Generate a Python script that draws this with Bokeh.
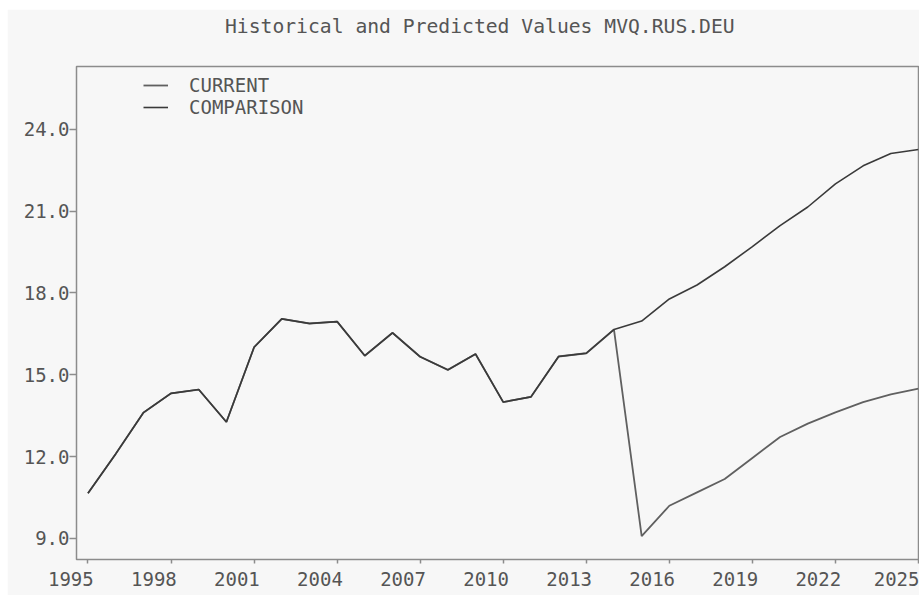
from bokeh.plotting import figure
from bokeh.models import (Range1d, FixedTicker, NumeralTickFormatter, Legend, LegendItem,
                          LinearAxis)
from bokeh.embed import file_html
from bokeh.resources import INLINE

# ---- data ----
years = list(range(1995, 2026))
history = [10.66, 12.10, 13.61, 14.32, 14.46, 13.27, 16.01, 17.05, 16.88, 16.95,
           15.70, 16.54, 15.66, 15.18, 15.76, 14.00, 14.19, 15.67, 15.79, 16.66]
current_forecast = [9.09, 10.20, 10.69, 11.18, 11.95, 12.72, 13.21, 13.62, 14.00, 14.28, 14.49]
comparison_forecast = [16.97, 17.78, 18.29, 18.96, 19.70, 20.47, 21.15, 22.00, 22.66, 23.11, 23.26]
current = history + current_forecast
comparison = history + comparison_forecast
x_ticks = [1995, 1998, 2001, 2004, 2007, 2010, 2013, 2016, 2019, 2022, 2025]
x_tick_labels = [str(t) for t in x_ticks]
y_ticks = [9, 12, 15, 18, 21, 24]
title_text = "Historical and Predicted Values MVQ.RUS.DEU"

FONT = "DejaVu Sans Mono"
TXT = "#555555"
BG = "#f7f7f7"
FRAME = "#8c8c8c"
NBSP = "\u00a0"

p = figure(width=912, height=586, output_backend="svg", toolbar_location=None,
           x_range=Range1d(1994.585, 2025.0), y_range=Range1d(8.23, 26.30),
           min_border_left=69, min_border_right=1, min_border_top=57, min_border_bottom=36)
p.margin = (9, 0, 0, 7)

p.background_fill_color = BG
p.border_fill_color = BG
p.outline_line_color = FRAME
p.outline_line_width = 1.5
p.grid.visible = False

# y axis
ya = p.left[0]
ya.ticker = FixedTicker(ticks=y_ticks)
ya.formatter = NumeralTickFormatter(format="0.0")
ya.axis_line_color = None
ya.major_tick_line_color = FRAME
ya.major_tick_line_width = 1.5
ya.major_tick_out = 7
ya.major_tick_in = 0
ya.minor_tick_line_color = None
ya.major_label_standoff = 0
ya.major_label_text_font = FONT
ya.major_label_text_font_size = "19px"
ya.major_label_text_color = TXT

# x axis: labels sit left of their ticks in the reference (padding with no-break spaces)
xa = p.below[0]
xa.ticker = FixedTicker(ticks=x_ticks)
overrides = {t: lab + NBSP * 3 for t, lab in zip(x_ticks, x_tick_labels)}
overrides[x_ticks[-1]] = x_tick_labels[-1]
xa.major_label_overrides = overrides
xa.axis_line_color = None
xa.major_tick_line_color = FRAME
xa.major_tick_line_width = 1.5
xa.major_tick_out = 4
xa.major_tick_in = 0
xa.minor_tick_line_color = None
xa.major_label_standoff = 4
xa.major_label_text_font = FONT
xa.major_label_text_font_size = "19px"
xa.major_label_text_color = TXT

# spacer between title and frame: one (practically invisible) tick, no label
spacer = LinearAxis(ticker=FixedTicker(ticks=[2010]), axis_line_color=None,
                    major_tick_out=22, major_tick_in=0, major_tick_line_color=BG,
                    major_tick_line_alpha=0.01,
                    minor_tick_out=0, minor_tick_line_color=None, major_label_standoff=0,
                    major_label_overrides={2010: ""})
p.add_layout(spacer, "above")

# title
p.title.text = title_text
p.title.text_font = FONT
p.title.text_font_size = "19.7px"
p.title.text_font_style = "normal"
p.title.text_color = TXT
p.title.align = "left"
p.title.vertical_align = "top"
p.title.offset = 148.5
p.title.standoff = 10

# lines
r_cur = p.line(years, current, line_color="#606060", line_width=1.8)
r_cmp = p.line(years, comparison, line_color="#3a3a3a", line_width=1.6)

legend = Legend(items=[LegendItem(label="CURRENT", renderers=[r_cur]),
                       LegendItem(label="COMPARISON", renderers=[r_cmp])],
                location=(67, 441), orientation="vertical")
legend.background_fill_alpha = 0
legend.border_line_color = None
legend.padding = 0
legend.margin = 0
legend.spacing = 0
legend.glyph_width = 25
legend.glyph_height = 20
legend.label_height = 20
legend.label_standoff = 21
legend.label_text_font = FONT
legend.label_text_font_size = "19px"
legend.label_text_color = TXT
p.add_layout(legend)

open("out.html", "w").write(file_html(p, INLINE))
